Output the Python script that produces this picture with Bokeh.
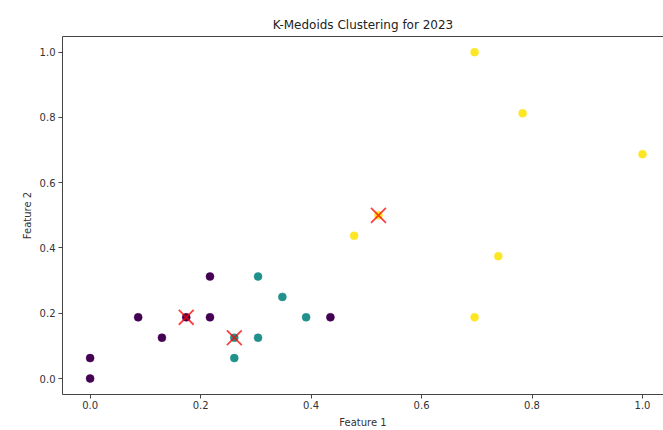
from bokeh.plotting import figure
from bokeh.models import Range1d, LinearAxis, FixedTicker, Title
from bokeh.embed import file_html
from bokeh.resources import INLINE

# Data
feature1 = [0.000, 0.000, 0.087, 0.130, 0.174, 0.217, 0.217, 0.435,
            0.261, 0.261, 0.304, 0.304, 0.348, 0.391,
            0.478, 0.522, 0.696, 0.696, 0.739, 0.783, 1.000]
feature2 = [0.000, 0.0625, 0.1875, 0.125, 0.1875, 0.1875, 0.3125, 0.1875,
            0.0625, 0.125, 0.125, 0.3125, 0.25, 0.1875,
            0.4375, 0.500, 0.1875, 1.000, 0.375, 0.8125, 0.6875]
cluster = [0, 0, 0, 0, 0, 0, 0, 0,
           1, 1, 1, 1, 1, 1,
           2, 2, 2, 2, 2, 2, 2]
medoid_x = [0.174, 0.261, 0.522]
medoid_y = [0.1875, 0.125, 0.500]
cluster_colors = ["#440154", "#21918c", "#fde725"]
x_ticks = [0.0, 0.2, 0.4, 0.6, 0.8, 1.0]
y_ticks = [0.0, 0.2, 0.4, 0.6, 0.8, 1.0]
title_text = "K-Medoids Clustering for 2023"

FONT = "DejaVu Sans"

p = figure(width=663, height=430, output_backend="svg", toolbar_location=None,
           x_range=Range1d(-0.05, 1.038), y_range=Range1d(-0.049, 1.048),
           min_border_left=62, min_border_right=0, min_border_top=36,
           min_border_bottom=33)
p.title = Title(text=title_text, align="center",
                text_font=FONT, text_font_size="12px", text_font_style="normal",
                text_color="#222222", offset=3)
p.grid.visible = False
p.outline_line_color = None
p.background_fill_color = "white"
p.border_fill_color = "white"

colors = [cluster_colors[c] for c in cluster]
p.scatter(feature1, feature2, size=8, fill_color=colors, line_color=colors,
          line_width=0.5)
p.scatter(medoid_x, medoid_y, marker="x", size=21, line_color="red",
          line_width=1.8, line_alpha=0.75)

for ax, ticks in ((p.xaxis[0], x_ticks), (p.yaxis[0], y_ticks)):
    ax.ticker = FixedTicker(ticks=ticks)
    ax.minor_tick_line_color = None
    ax.major_tick_in = 0
    ax.major_tick_out = 4
    ax.axis_line_color = "#444444"
    ax.major_tick_line_color = "#444444"
    ax.major_label_text_font = FONT
    ax.major_label_text_font_size = "10px"
    ax.major_label_text_color = "#333333"
    ax.axis_label_text_font = FONT
    ax.axis_label_text_font_size = "10px"
    ax.axis_label_text_font_style = "normal"
    ax.axis_label_text_color = "#333333"
    ax.major_label_standoff = 3
    ax.axis_label_standoff = 4

p.xaxis[0].axis_label = "Feature 1"
p.xaxis[0].major_label_standoff = 2
p.xaxis[0].axis_label_standoff = 5
p.yaxis[0].axis_label = "Feature 2"
p.xaxis[0].major_label_overrides = {t: f"{t:.1f}" for t in x_ticks}
p.yaxis[0].major_label_overrides = {t: f"{t:.1f}" for t in y_ticks}

top = LinearAxis(ticker=FixedTicker(ticks=[]), axis_line_color="#444444",
                 major_label_text_font_size="0px", minor_tick_line_color=None,
                 major_tick_line_color=None, major_tick_in=0, major_tick_out=5)
p.add_layout(top, "above")

open("out.html", "w").write(file_html(p, INLINE))
